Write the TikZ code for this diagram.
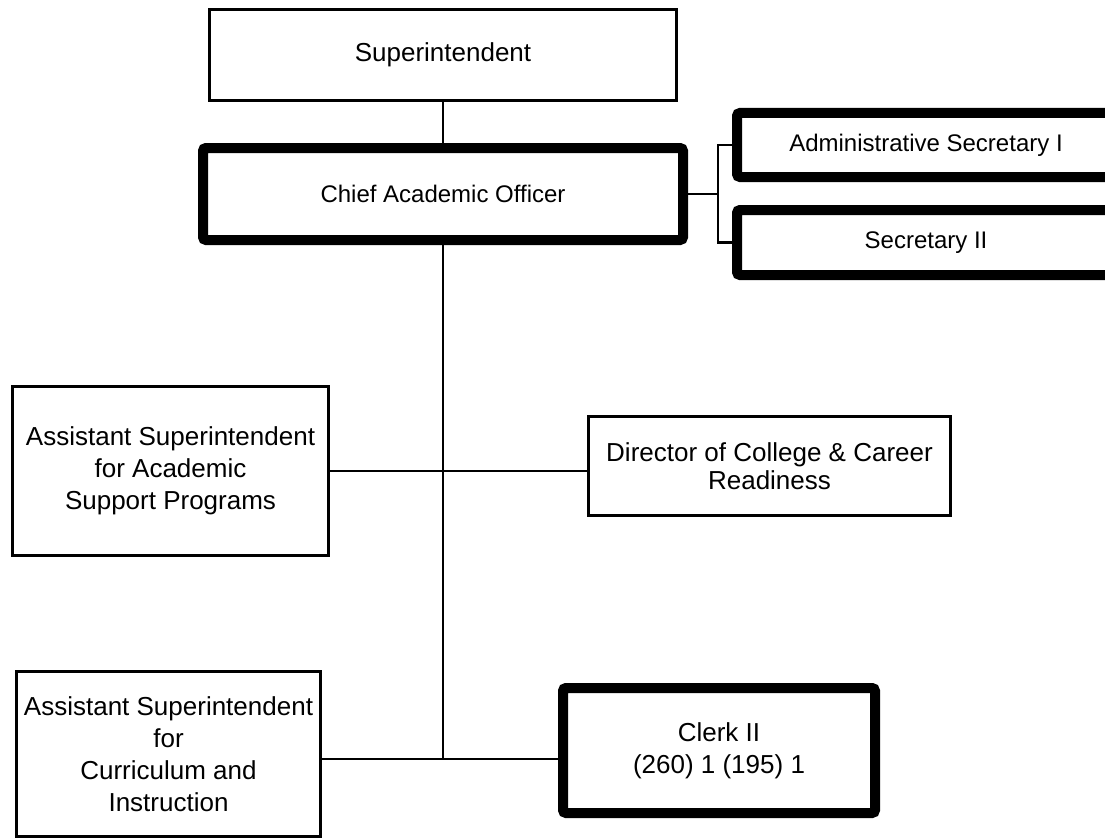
\documentclass[tikz,border=0pt]{standalone}
\usepackage{fontspec}
\setmainfont{Liberation Sans}
\usepackage{tikz}
\tikzset{every picture/.style={x=1pt,y=-1pt}}
\tikzset{
  thinbox/.style={draw, line width=3pt, inner sep=0pt, align=center,
    font=\fontsize{26}{32}\selectfont},
  thickbox/.style={draw, line width=10pt, rounded corners=3pt, inner sep=0pt,
    align=center, font=\fontsize{24}{30}\selectfont},
  link/.style={line width=2.5pt}
}

\begin{document}
\begin{tikzpicture}
    \useasboundingbox (0,0) rectangle (1105,840);
    % top of the chart
    \node[thinbox, minimum width=467pt, minimum height=91pt] (sup) at (443,55) {Superintendent};
    \node[thickbox, minimum width=480pt, minimum height=92pt] (cao) at (443,194) {Chief Academic Officer};
    \node[thickbox, minimum width=378pt, minimum height=64pt] (asec) at (926,145) {Administrative Secretary I};
    \node[thickbox, minimum width=378pt, minimum height=65pt] (sec) at (926,242.5) {Secretary II};
    % middle row
    \node[thinbox, minimum width=316pt, minimum height=169pt] (asap) at (170.5,471)
        {Assistant Superintendent\\for Academic\\Support Programs};
    \node[thinbox, minimum width=362pt, minimum height=99pt, font=\fontsize{26}{28}\selectfont] (dir) at (769.5,466)
        {Director of College \& Career\\Readiness};
    % bottom row
    \node[thinbox, minimum width=304pt, minimum height=165pt] (asci) at (168.5,754)
        {Assistant Superintendent\\for\\Curriculum and\\Instruction};
    \node[thickbox, minimum width=312pt, minimum height=125pt, font=\fontsize{26}{32}\selectfont] (clerk) at (719,750.5)
        {Clerk II\\(260) 1 (195) 1};
    \coordinate (br) at (718,194);
    \coordinate (jb) at (443,759);
    % connectors
    \draw[link] (sup.south) -- (cao.north);
    \draw[link] (cao.east) -- (br);
    \draw[link] (asec.west) -| (br) |- (sec.west);
    \draw[link] (cao.south) -- (jb);
    \draw[link] (asap.east) -- (asap.east -| dir.west);
    \draw[link] (asci.east |- jb) -- (clerk.west |- jb);
\end{tikzpicture}
\end{document}
